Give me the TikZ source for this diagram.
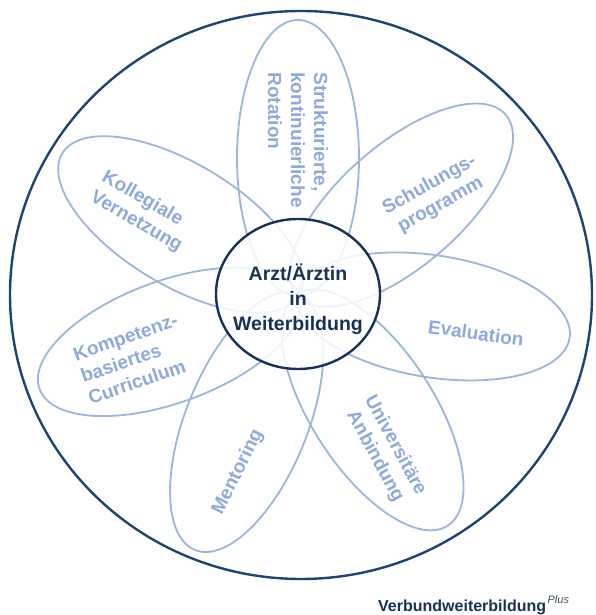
\documentclass[tikz,border=0pt]{standalone}
\usepackage{fontspec}
\setmainfont{Liberation Sans}
\definecolor{petalline}{RGB}{155,180,226}
\definecolor{petaltext}{RGB}{141,169,221}
\definecolor{navy}{RGB}{23,50,90}
\definecolor{outerblue}{RGB}{28,68,118}
\definecolor{plusgray}{RGB}{70,80,100}
\begin{document}
\begin{tikzpicture}[x=1pt,y=1pt,
  petal/.style={draw=petalline, line width=1.8pt},
  ptext/.style={text=petaltext, font=\bfseries\fontsize{19}{23}\selectfont, inner sep=0pt},
  ctext/.style={text=navy, font=\bfseries\fontsize{19.5}{25}\selectfont, inner sep=0pt, align=center},
  ringline/.style={draw=outerblue, line width=2.4pt},
  coreline/.style={draw=navy, line width=2.4pt, fill=white, fill opacity=0.85}]
\useasboundingbox (0,0) rectangle (595,615);
\coordinate (C) at (298,320);
% outer ring
\draw[ringline] (301,320) ellipse [x radius=291pt, y radius=284pt];
% petals
\foreach \a in {90,41,-9,-57,-112,-160,149}
  \draw[petal, shift={(C)}, rotate=\a] (137,0) ellipse [x radius=138pt, y radius=61pt];
% core
\draw[coreline] (298,321) ellipse [x radius=82pt, y radius=75pt];
\node[ctext] (core) at (298,316) {Arzt/Ärztin\\in\\Weiterbildung};
% petal texts
\node[ptext, rotate=-90, align=left] (p1) at (298,475) {Strukturierte,\\kontinuierliche\\Rotation};
\node[ptext, rotate=29, align=center] (p2) at (435,420) {Schulungs-\\programm};
\node[ptext, rotate=-8] (p3) at (476,282) {Evaluation};
\node[ptext, rotate=-61.5, align=center] (p4) at (385,164) {Universitäre\\Anbindung};
\node[ptext, rotate=63.4] (p5) at (238,143) {Mentoring};
\node[ptext, rotate=19, align=left] (p6) at (133,256) {Kompetenz-\\basiertes\\Curriculum};
\node[ptext, rotate=-30, align=left] (p7) at (142,403) {Kollegiale\\Vernetzung};
% brand
\node[anchor=base west, inner sep=0pt, text=navy, font=\bfseries\fontsize{16}{18}\selectfont] (brand) at (378,3) {Verbundweiterbildung};
\node[anchor=base west, inner sep=0pt, text=plusgray, font=\itshape\fontsize{11}{12}\selectfont] (plus) at ([xshift=1pt,yshift=9pt]brand.base east) {Plus};
\end{tikzpicture}
\end{document}
